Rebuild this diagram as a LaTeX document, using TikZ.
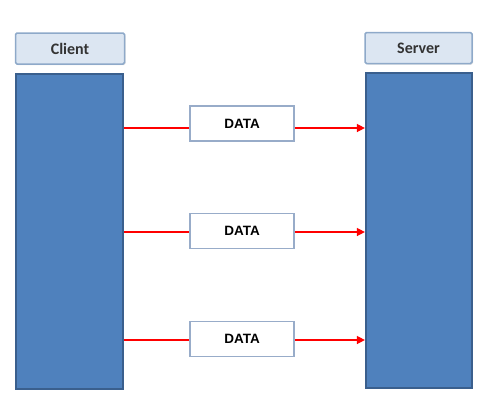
\documentclass[tikz,border=0pt]{standalone}
\usepackage{fontspec}
\setmainfont{Liberation Sans}
\newfontfamily\calfont{Carlito}
\usetikzlibrary{arrows.meta,shadows}
\definecolor{barfill}{HTML}{4F81BD}
\definecolor{barline}{HTML}{3A5F8D}
\definecolor{labfill}{HTML}{DCE6F2}
\definecolor{labline}{HTML}{8EA9C9}
\definecolor{dataline}{HTML}{98ACC9}
\definecolor{labtext}{HTML}{333333}
\begin{document}
\begin{tikzpicture}[x=1pt,y=-1pt,
  bar/.style={draw=barline,fill=barfill,line width=2.2pt},
  lab/.style={draw=labline,fill=labfill,line width=1.5pt,rounded corners=1.5pt,
    drop shadow={shadow xshift=1pt,shadow yshift=-1pt,opacity=0.25},
    font=\calfont\bfseries\fontsize{16}{19}\selectfont,text=labtext},
  databox/.style={draw=dataline,fill=white,line width=1.5pt,
    font=\bfseries\fontsize{13.5}{16}\selectfont},
  msg/.style={draw=red,line width=1.4pt},
  msgarrow/.style={msg,-{Triangle[length=8pt,width=8pt]}}]
\useasboundingbox (0,0) rectangle (498,410);
% label boxes
\node[lab,minimum width=109pt,minimum height=31pt,inner sep=0pt] (clab) at (70,48.5) {Client};
\node[lab,minimum width=107pt,minimum height=31pt,inner sep=0pt] (slab) at (418.5,48) {Server};
% lifeline bars
\node[bar,minimum width=107pt,minimum height=315pt,inner sep=0pt] (cbar) at (69.5,231.5) {};
\node[bar,minimum width=106pt,minimum height=315pt,inner sep=0pt] (sbar) at (419,230.5) {};
% data boxes
\node[databox,minimum width=104pt,minimum height=35pt,inner sep=0pt] (d1) at (242,123.5) {DATA};
\node[databox,minimum width=104pt,minimum height=35pt,inner sep=0pt] (d2) at (242,231) {DATA};
\node[databox,minimum width=104pt,minimum height=35pt,inner sep=0pt] (d3) at (242,339) {DATA};
% arrows
\foreach \d/\y in {d1/128,d2/232,d3/340}{
  \coordinate (cl\d) at (cbar.east |- 0,\y);
  \coordinate (sl\d) at (sbar.west |- 0,\y);
  \draw[msg] (cl\d) -- (\d.west |- cl\d);
  \draw[msgarrow] (\d.east |- cl\d) -- (sl\d);
}
\end{tikzpicture}
\end{document}
